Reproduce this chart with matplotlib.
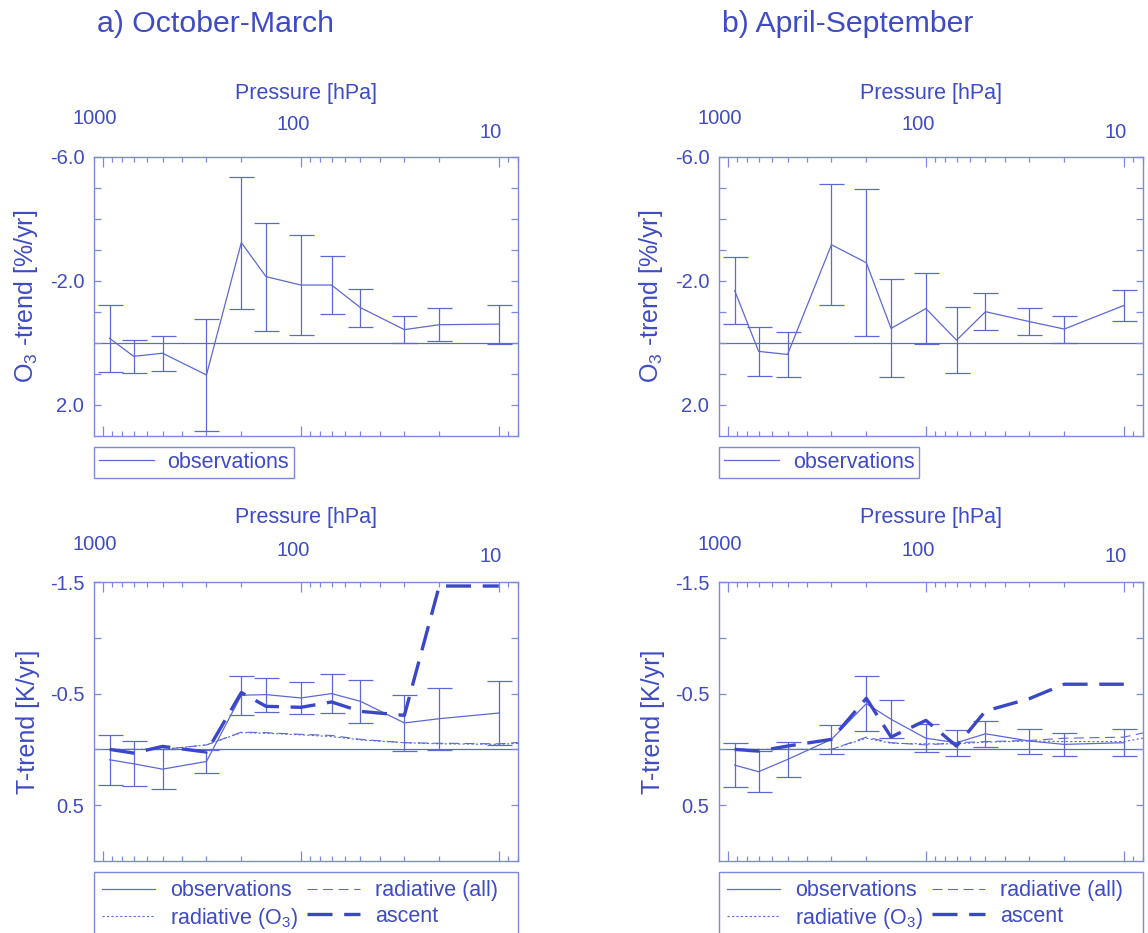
import matplotlib.pyplot as plt
import matplotlib.transforms as mtransforms
from matplotlib.ticker import LogLocator, NullFormatter

plt.rcParams['font.family'] = ['Liberation Sans', 'DejaVu Sans']
plt.rcParams['mathtext.fontset'] = 'custom'
plt.rcParams['mathtext.rm'] = 'Liberation Sans'
plt.rcParams['mathtext.it'] = 'Liberation Sans:italic'
plt.rcParams['axes.unicode_minus'] = False

TEXT = '#3f4bc5'
THIN = '#5d68d5'
THICK = '#3a47c6'
FRAME = '#7e88e0'

# pressure levels [hPa]
levels = [925, 700, 500, 300, 200, 150, 100, 70, 50, 30, 20, 10]
model_levels = [925, 700, 500, 300, 200, 150, 100, 70, 50, 30, 20, 10, 7]

# ozone trends [%/yr], October-March
o3_obs_win = [-0.15, 0.43, 0.33, 1.03, -3.24, -2.14, -1.87, -1.87, -1.14, -0.43, -0.59, -0.61]
o3_err_win = [1.09, 0.53, 0.565, 1.8, 2.13, 1.74, 1.62, 0.94, 0.615, 0.425, 0.53, 0.63]
# ozone trends [%/yr], April-September
o3_obs_sum = [-1.69, 0.27, 0.37, -3.17, -2.59, -0.47, -1.11, -0.09, -1.01, -0.69, -0.45, -1.21]
o3_err_sum = [1.09, 0.79, 0.735, 1.95, 2.37, 1.58, 1.15, 1.07, 0.59, 0.43, 0.435, 0.51]

# temperature trends [K/yr], October-March
t_obs_win = [0.093, 0.129, 0.177, 0.108, -0.485, -0.491, -0.461, -0.5, -0.431, -0.237, -0.275, -0.326]
t_err_win = [0.223, 0.2, 0.18, 0.1, 0.177, 0.153, 0.142, 0.175, 0.195, 0.25, 0.277, 0.29]
t_asc_win = [0.0, 0.033, -0.027, 0.024, -0.509, -0.386, -0.377, -0.425, -0.341, -0.305, -1.464, -1.464]
t_rad_all_win = [0, 0, 0, -0.04, -0.155, -0.15, -0.135, -0.125, -0.09, -0.06, -0.055, -0.05, -0.07]
t_rad_o3_win = [0, 0, 0, -0.04, -0.15, -0.145, -0.13, -0.115, -0.085, -0.06, -0.05, -0.045, -0.06]

# temperature trends [K/yr], April-September
t_obs_sum = [0.141, 0.2, 0.09, -0.09, -0.41, -0.27, -0.1, -0.06, -0.14, -0.075, -0.045, -0.06]
t_err_sum = [0.2, 0.185, 0.153, 0.128, 0.249, 0.17, 0.125, 0.117, 0.115, 0.112, 0.105, 0.12]
t_asc_sum = [0.0, 0.015, -0.03, -0.09, -0.458, -0.111, -0.26, -0.03, -0.344, -0.455, -0.584, -0.584]
t_rad_all_sum = [0, 0, 0, 0, -0.11, -0.06, -0.04, -0.06, -0.07, -0.08, -0.1, -0.11, -0.17]
t_rad_o3_sum = [0, 0, 0, 0, -0.1, -0.055, -0.05, -0.05, -0.065, -0.075, -0.07, -0.07, -0.12]

o3_ticks = [-6, -5, -4, -3, -2, -1, 0, 1, 2]
o3_labels = ['-6.0', '', '', '', '-2.0', '', '', '', '2.0']
t_ticks = [-1.5, -1.0, -0.5, 0.0, 0.5]
t_labels = ['-1.5', '', '-0.5', '', '0.5']

W, H = 1148, 933
fig = plt.figure(figsize=(W / 100, H / 100), dpi=100)


def make_axes(left, top):
    return fig.add_axes([left / W, 1 - (top + 279) / H, 424 / W, 279 / H])


def setup(ax, ylim, ticks, labels, ylabel):
    ax.set_xscale('log')
    ax.set_xlim(1110, 8)
    ax.set_ylim(ylim)
    ax.axhline(0, color=THIN, lw=0.9, zorder=1)
    for s in ax.spines.values():
        s.set_color(FRAME)
        s.set_linewidth(1.0)
    ax.xaxis.set_major_locator(LogLocator(base=10))
    ax.xaxis.set_minor_locator(LogLocator(base=10, subs=range(2, 10)))
    ax.xaxis.set_major_formatter(NullFormatter())
    ax.xaxis.set_minor_formatter(NullFormatter())
    ax.set_yticks(ticks)
    ax.set_yticklabels(labels)
    ax.tick_params(which='both', direction='in', top=True, bottom=True,
                   left=True, right=True, color=FRAME, width=0.9,
                   labelcolor=TEXT, labelsize=14.5)
    ax.tick_params(axis='x', which='major', length=7)
    ax.tick_params(axis='x', which='minor', length=3.5)
    ax.tick_params(axis='y', length=5, pad=7)
    # decade labels above the frame, slightly staggered
    for p, dy in zip([1000, 100, 10], [38, 32, 25]):
        tr = mtransforms.offset_copy(ax.get_xaxis_transform(), fig=fig,
                                     x=-8, y=dy, units='dots')
        ax.text(p, 1.0, str(p), transform=tr, ha='center', va='center',
                fontsize=14.5, color=TEXT)
    tr = mtransforms.offset_copy(ax.transAxes, fig=fig, y=64, units='dots')
    ax.text(0.5, 1.0, 'Pressure [hPa]', transform=tr, ha='center',
            va='center', fontsize=15.5, color=TEXT)
    ax.set_ylabel(ylabel, fontsize=18, color=TEXT)
    ax.yaxis.set_label_coords(-0.128, 0.5)


def draw_ozone(ax, obs, err):
    setup(ax, (3, -6), o3_ticks, o3_labels, 'O$_3$ -trend [%/yr]')
    ax.errorbar(levels, obs, yerr=err, fmt='none', ecolor=THIN,
                elinewidth=0.9, capsize=9, capthick=0.9)
    ax.plot(levels, obs, color=THIN, lw=0.9, label='observations')
    leg = ax.legend(loc='upper left', bbox_to_anchor=(0, -0.04),
                    borderaxespad=0, fontsize=15.5, fancybox=False,
                    framealpha=1, edgecolor=FRAME, labelcolor=TEXT,
                    handlelength=2.55, handletextpad=0.65, borderpad=0.22)
    leg.get_frame().set_linewidth(1.0)


def draw_temp(ax, obs, err, asc, rad_all, rad_o3):
    setup(ax, (1.0, -1.5), t_ticks, t_labels, 'T-trend [K/yr]')
    ax.errorbar(levels, obs, yerr=err, fmt='none', ecolor=THIN,
                elinewidth=0.9, capsize=9, capthick=0.9)
    h_obs, = ax.plot(levels, obs, color=THIN, lw=0.9)
    h_all, = ax.plot(model_levels, rad_all, color=THIN, lw=0.8,
                     dashes=(9, 5))
    h_o3, = ax.plot(model_levels, rad_o3, color=THIN, lw=0.8,
                    dashes=(2, 2))
    h_asc, = ax.plot(levels, asc, color=THICK, lw=2.4, dashes=(7.5, 3.5))
    leg = ax.legend([h_obs, h_o3, h_all, h_asc],
                    ['observations', 'radiative (O$_3$)',
                     'radiative (all)  ', 'ascent'],
                    ncol=2, loc='upper left', bbox_to_anchor=(0, -0.04, 1, 0),
                    mode='expand', borderaxespad=0, fontsize=15.5,
                    fancybox=False, framealpha=1, edgecolor=FRAME,
                    labelcolor=TEXT, handlelength=2.45, handletextpad=0.7,
                    labelspacing=0.2, borderpad=0.38, columnspacing=0.5)
    leg.get_frame().set_linewidth(1.0)


ax1 = make_axes(94, 157)
ax2 = make_axes(719, 157)
ax3 = make_axes(94, 582)
ax4 = make_axes(719, 582)

draw_ozone(ax1, o3_obs_win, o3_err_win)
draw_ozone(ax2, o3_obs_sum, o3_err_sum)
draw_temp(ax3, t_obs_win, t_err_win, t_asc_win, t_rad_all_win, t_rad_o3_win)
draw_temp(ax4, t_obs_sum, t_err_sum, t_asc_sum, t_rad_all_sum, t_rad_o3_sum)

fig.text(97 / W, 1 - 24 / H, 'a) October-March', fontsize=21.8,
         color=TEXT, va='center', ha='left')
fig.text(722 / W, 1 - 24 / H, 'b) April-September', fontsize=21.8,
         color=TEXT, va='center', ha='left')

fig.savefig('out.png', dpi=100)
